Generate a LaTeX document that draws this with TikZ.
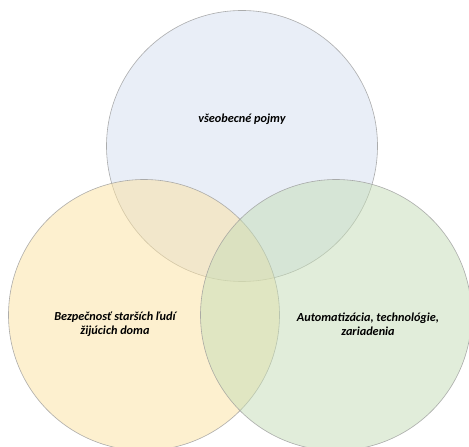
\documentclass[tikz,border=0pt]{standalone}
\usepackage{fontspec}
\setmainfont{Carlito}
\definecolor{cblue}{HTML}{D4DEF0}
\definecolor{cyellow}{HTML}{FCE2A0}
\definecolor{cgreen}{HTML}{C5DDB6}
\definecolor{cline}{HTML}{9A9A9A}
\begin{document}
\begin{tikzpicture}[x=1bp,y=-1bp,
  venn/.style={circle, minimum size=271bp, inner sep=0pt, draw=cline, line width=0.6bp, fill opacity=0.5, draw opacity=0.8},
  lbl/.style={font=\fontsize{12.3}{14.5}\selectfont\bfseries\itshape, align=center, text=black}]
\useasboundingbox (0,0) rectangle (469,447);
\clip (0,0) rectangle (469,447);
\fill[white] (0,0) rectangle (469,447);
\node[venn, fill=cblue] (top) at (242,146) {};
\node[venn, fill=cyellow] (left) at (144,315) {};
\node[venn, fill=cgreen] (right) at (336,315) {};
\node[lbl] (ttop) at (242,119) {všeobecné pojmy};
\node[lbl] (tleft) at (115,324) {Bezpečnosť starších ľudí\\žijúcich doma};
\node[lbl] (tright) at (368,324) {Automatizácia, technológie,\\zariadenia};
\end{tikzpicture}
\end{document}
